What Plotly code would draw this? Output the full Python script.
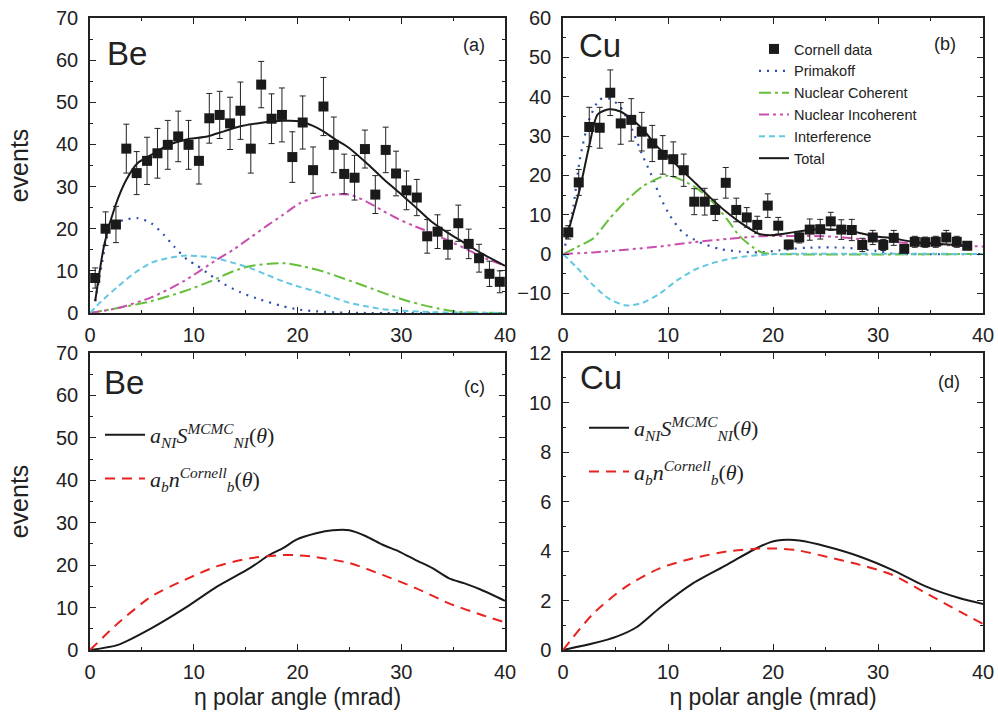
import plotly.graph_objects as go

# ---------------- Panel (a): Be, Cornell data and model components ----------------
be_data_x = [0.5, 1.5, 2.5, 3.5, 4.5, 5.5, 6.5, 7.5, 8.5, 9.5, 10.5, 11.5, 12.5, 13.5, 14.5,
             15.5, 16.5, 17.5, 18.5, 19.5, 20.5, 21.5, 22.5, 23.5, 24.5, 25.5, 26.5, 27.5,
             28.5, 29.5, 30.5, 31.5, 32.5, 33.5, 34.5, 35.5, 36.5, 37.5, 38.5, 39.5]
be_data_y = [8.3, 20.0, 21.0, 39.0, 33.2, 36.1, 37.9, 39.9, 41.9, 39.9, 36.1, 46.2, 47.0, 45.0,
             48.0, 39.0, 54.2, 46.1, 47.0, 37.0, 45.2, 33.9, 49.0, 39.9, 33.0, 32.1, 38.9, 28.1,
             38.7, 33.1, 29.1, 27.4, 18.2, 19.3, 16.2, 21.3, 16.4, 13.0, 9.3, 7.4]
be_data_err = [2.4, 4.0, 4.3, 5.8, 5.1, 5.6, 5.9, 5.8, 6.0, 5.8, 5.5, 5.9, 5.6, 6.2, 6.8, 5.8,
               5.5, 5.9, 6.4, 6.0, 6.3, 5.5, 6.9, 6.6, 4.7, 5.3, 4.5, 4.5, 5.4, 5.3, 4.6, 4.3,
               4.0, 4.0, 3.4, 4.3, 3.5, 3.3, 3.0, 2.6]

be_total_x = [0.5, 1.4, 2.45, 3.5, 4.6, 5.9, 7.5, 9.5, 11.3, 12.9, 14.5, 16.4, 18.6, 20.2, 21.5,
              22.5, 23.7, 25.0, 26.6, 28.2, 29.8, 31.3, 32.9, 34.5, 36.1, 37.7, 40.0]
be_total_y = [2.8, 16.5, 25.5, 31.6, 35.6, 37.5, 39.8, 41.3, 41.9, 43.1, 44.3, 45.1, 45.6, 45.5,
              44.4, 43.1, 41.1, 39.1, 35.7, 32.0, 28.6, 25.3, 21.7, 19.0, 16.6, 14.2, 11.2]

be_prim_x = [0.5, 1.1, 2.0, 3.3, 4.6, 5.9, 7.1, 8.1, 9.4, 10.3, 11.6, 12.9, 14.5, 16.4, 18.6,
             20.2, 21.8, 25.0, 40.0]
be_prim_y = [2.8, 11.0, 20.5, 22.1, 22.5, 21.3, 18.6, 15.8, 12.6, 11.3, 9.0, 6.9, 4.9, 3.2, 1.6,
             0.8, 0.4, 0.05, 0.0]

be_coh_x = [0.0, 2.7, 5.9, 9.0, 11.6, 13.8, 15.4, 17.3, 18.9, 20.5, 22.4, 24.3, 26.6, 28.8, 30.7,
            32.9, 35.2, 37.0, 40.0]
be_coh_y = [0.0, 1.2, 2.8, 5.1, 7.5, 9.9, 11.1, 11.7, 11.8, 11.1, 9.9, 8.3, 6.3, 4.3, 2.8, 1.4,
            0.4, 0.1, 0.0]

be_inc_x = [0.0, 2.7, 5.9, 9.0, 12.2, 13.8, 15.4, 17.0, 18.6, 20.2, 21.8, 23.4, 25.0, 26.6, 28.2,
            29.7, 31.3, 32.9, 34.5, 36.1, 37.7, 40.0]
be_inc_y = [0.0, 1.2, 3.7, 7.5, 12.6, 15.0, 17.8, 20.6, 23.3, 26.0, 27.5, 28.1, 28.1, 26.5, 24.3,
            22.3, 20.6, 19.0, 17.2, 15.4, 13.4, 11.2]

be_int_x = [0.0, 1.1, 2.7, 4.3, 5.9, 7.5, 9.0, 10.6, 12.2, 13.8, 15.4, 17.0, 18.6, 20.2, 21.8,
            23.4, 25.0, 26.6, 28.2, 29.7, 32.9, 40.0]
be_int_y = [0.0, 2.8, 6.3, 9.5, 11.9, 13.0, 13.6, 13.5, 13.0, 11.9, 10.7, 9.1, 7.5, 6.2, 5.1,
            3.7, 2.4, 1.6, 0.9, 0.6, 0.2, 0.0]

# ---------------- Panel (b): Cu, Cornell data and model components ----------------
cu_data_x = [0.5, 1.5, 2.5, 3.5, 4.5, 5.5, 6.5, 7.5, 8.5, 9.5, 10.5, 11.5, 12.5, 13.5, 14.5,
             15.5, 16.5, 17.5, 18.5, 19.5, 20.5, 21.5, 22.5, 23.5, 24.5, 25.5, 26.5, 27.5,
             28.5, 29.5, 30.5, 31.5, 32.5, 33.5, 34.5, 35.5, 36.5, 37.5, 38.5]
cu_data_y = [5.5, 18.2, 32.3, 32.1, 41.0, 33.2, 34.1, 31.1, 28.1, 25.2, 24.1, 21.3, 13.3, 13.3,
             11.2, 18.1, 11.2, 9.3, 7.4, 12.3, 7.2, 2.4, 4.2, 6.2, 6.3, 8.3, 6.2, 6.1, 2.3, 4.2,
             2.3, 4.1, 1.3, 3.1, 3.0, 3.1, 4.2, 3.1, 2.1]
cu_data_err = [1.7, 3.3, 5.0, 5.2, 5.8, 5.3, 5.4, 4.9, 4.6, 4.9, 4.4, 4.1, 3.3, 3.4, 2.7, 3.9,
               3.0, 2.5, 2.2, 3.0, 2.1, 1.1, 1.4, 2.7, 2.5, 2.3, 2.5, 2.7, 1.7, 1.8, 1.4, 1.9,
               0.8, 1.4, 1.3, 1.4, 1.8, 1.4, 1.0]

cu_total_x = [0.3, 1.6, 2.5, 3.3, 4.4, 5.4, 6.5, 7.6, 8.9, 10.2, 11.4, 12.7, 14.0, 15.6, 17.1,
              18.7, 20.0, 21.9, 23.8, 25.7, 27.6, 29.5, 31.4, 33.3, 35.2, 37.5, 38.5]
cu_total_y = [3.8, 16.5, 27.5, 35.5, 36.8, 36.3, 34.4, 31.7, 27.5, 24.3, 21.1, 17.8, 14.4, 10.6,
              7.6, 5.1, 4.8, 5.5, 6.2, 6.2, 5.7, 4.6, 4.0, 3.1, 2.7, 2.3, 2.1]

cu_prim_x = [0.2, 1.0, 1.6, 2.5, 3.5, 4.4, 5.4, 6.3, 7.6, 8.6, 9.2, 10.2, 11.4, 13.0, 14.9, 16.8,
             18.7, 20.5, 23.2, 26.7, 29.8, 31.5, 40.0]
cu_prim_y = [2.1, 12.3, 24.0, 34.2, 39.3, 39.5, 37.6, 33.4, 24.9, 19.0, 14.8, 9.7, 5.5, 3.0, 1.3,
             0.6, 0.4, 0.9, 1.6, 1.6, 0.8, 0.1, 0.0]

cu_coh_x = [0.0, 1.3, 2.9, 4.4, 6.0, 7.6, 9.2, 9.8, 10.8, 12.4, 14.0, 15.6, 16.8, 18.1, 19.0,
            20.0, 40.0]
cu_coh_y = [0.0, 1.7, 4.0, 8.9, 13.5, 17.2, 19.4, 19.9, 19.4, 17.3, 13.9, 8.9, 4.6, 1.7, 0.3,
            0.0, 0.0]

cu_inc_x = [0.0, 2.9, 6.0, 9.2, 12.4, 15.6, 18.7, 21.9, 25.1, 28.3, 31.4, 34.6, 37.8, 40.0]
cu_inc_y = [0.0, 0.4, 1.1, 1.9, 3.0, 3.8, 4.5, 4.6, 4.5, 3.8, 3.1, 2.5, 2.1, 1.9]

cu_int_x = [0.0, 1.3, 2.9, 4.4, 6.0, 7.6, 9.2, 10.8, 12.4, 14.0, 15.6, 17.1, 18.7, 20.3, 40.0]
cu_int_y = [0.0, -3.4, -8.0, -11.4, -13.1, -12.4, -10.1, -6.8, -4.2, -2.5, -1.4, -0.7, -0.3,
            0.0, 0.0]

# ---------------- Panels (c), (d): incoherent MCMC vs. Cornell background ----------------
be_sni_x = [0.0, 2.7, 5.9, 9.1, 12.2, 15.4, 17.3, 18.6, 19.9, 21.8, 23.4, 25.0, 26.6, 28.2,
            29.8, 31.4, 33.0, 34.6, 36.1, 37.7, 40.0]
be_sni_y = [0.0, 1.2, 5.1, 9.8, 14.9, 19.3, 22.4, 24.0, 26.0, 27.5, 28.2, 28.2, 26.8, 24.8,
            23.2, 21.2, 19.3, 16.9, 15.7, 14.2, 11.6]
be_nb_x = [0.0, 2.7, 5.9, 9.1, 12.2, 15.4, 18.6, 20.2, 21.8, 25.0, 28.2, 31.4, 34.6, 37.7, 40.0]
be_nb_y = [0.0, 6.3, 12.6, 16.5, 19.7, 21.6, 22.4, 22.3, 21.9, 20.5, 17.7, 14.6, 11.0, 8.3, 6.5]

cu_sni_x = [0.0, 2.9, 5.1, 7.0, 9.2, 12.4, 15.6, 18.1, 19.7, 21.3, 22.5, 25.1, 28.3, 31.4, 34.6,
            37.8, 40.0]
cu_sni_y = [0.0, 0.27, 0.54, 0.92, 1.70, 2.70, 3.44, 4.04, 4.35, 4.45, 4.42, 4.18, 3.77, 3.23,
            2.56, 2.09, 1.86]
cu_nb_x = [0.0, 2.9, 6.0, 9.2, 12.4, 15.6, 18.7, 20.3, 22.2, 25.1, 28.3, 31.4, 34.6, 37.8, 40.0]
cu_nb_y = [0.0, 1.48, 2.56, 3.30, 3.71, 3.98, 4.10, 4.10, 4.04, 3.77, 3.44, 3.03, 2.29, 1.55,
           1.05]

component_names = ["Cornell data", "Primakoff", "Nuclear Coherent", "Nuclear Incoherent",
                   "Interference", "Total"]
sni_label = "<i>a</i><sub><i>NI</i></sub><i>S</i><sup><i>MCMC</i></sup><sub><i>NI</i></sub>(<i>θ</i>)"
nb_label = "<i>a</i><sub><i>b</i></sub><i>n</i><sup><i>Cornell</i></sup><sub><i>b</i></sub>(<i>θ</i>)"

# line styles
INK = "#1a1a1a"
STYLES = {
    "Primakoff": dict(color="#2f4fae", width=2.2, dash="2px,6px"),
    "Nuclear Coherent": dict(color="#66bf3a", width=2, dash="12px,4px,3px,4px"),
    "Nuclear Incoherent": dict(color="#c84fae", width=2, dash="10px,4px,3px,4px,3px,4px"),
    "Interference": dict(color="#62c8e0", width=2, dash="6px,4px"),
    "Total": dict(color=INK, width=2),
}

fig = go.Figure()


def add_panel(xa, ya, legend, data_x, data_y, data_err, curves, show):
    for rank, (name, cx, cy) in enumerate(curves, start=2):
        fig.add_trace(go.Scatter(
            x=cx, y=cy, mode="lines", name=name, line=STYLES[name],
            line_shape="spline", line_smoothing=0.7,
            xaxis=xa, yaxis=ya, showlegend=show, legend=legend, legendrank=rank))
    fig.add_trace(go.Scatter(
        x=data_x, y=data_y, mode="markers", name=component_names[0],
        marker=dict(symbol="square", size=10, color=INK),
        error_y=dict(type="data", array=data_err, color="#222", thickness=1, width=3),
        xaxis=xa, yaxis=ya, showlegend=show, legend=legend, legendrank=1))


add_panel("x", "y", "legend", be_data_x, be_data_y, be_data_err,
          [("Primakoff", be_prim_x, be_prim_y),
           ("Nuclear Coherent", be_coh_x, be_coh_y),
           ("Nuclear Incoherent", be_inc_x, be_inc_y),
           ("Interference", be_int_x, be_int_y),
           ("Total", be_total_x, be_total_y)], False)

add_panel("x2", "y2", "legend", cu_data_x, cu_data_y, cu_data_err,
          [("Primakoff", cu_prim_x, cu_prim_y),
           ("Nuclear Coherent", cu_coh_x, cu_coh_y),
           ("Nuclear Incoherent", cu_inc_x, cu_inc_y),
           ("Interference", cu_int_x, cu_int_y),
           ("Total", cu_total_x, cu_total_y)], True)

for xa, ya, leg, sx, sy, nx, ny in [("x3", "y3", "legend2", be_sni_x, be_sni_y, be_nb_x, be_nb_y),
                                    ("x4", "y4", "legend3", cu_sni_x, cu_sni_y, cu_nb_x, cu_nb_y)]:
    fig.add_trace(go.Scatter(x=sx, y=sy, mode="lines", name=sni_label,
                             line=dict(color=INK, width=2), line_shape="spline",
                             line_smoothing=0.7, xaxis=xa, yaxis=ya, legend=leg,
                             legendgroup="s", legendrank=1))
    fig.add_trace(go.Scatter(x=nx, y=ny, mode="lines", name=nb_label,
                             line=dict(color="#e8231f", width=2, dash="10px,7px"),
                             line_shape="spline", line_smoothing=0.7,
                             xaxis=xa, yaxis=ya, legend=leg, legendgroup="n", legendrank=2))

W, H = 998, 722
LEFT = [90 / W, 505 / W]
RIGHT = [563 / W, 983 / W]
TOP = [1 - 313 / H, 1 - 18 / H]
BOTTOM = [1 - 650 / H, 1 - 353 / H]

TICKFONT = dict(family="Liberation Sans, Arial, sans-serif", size=20, color="#222")
TITLEFONT = dict(family="Liberation Sans, Arial, sans-serif", size=23, color="#222")


def xaxis(domain, anchor, title=None):
    d = dict(domain=domain, anchor=anchor, range=[0, 40], dtick=10, tick0=0,
             ticks="inside", ticklen=6, tickwidth=1, tickcolor="#222",
             showline=True, linecolor="#222", linewidth=1.5, mirror="ticks",
             showgrid=False, zeroline=False, automargin=False,
             minor=dict(ticks="inside", ticklen=3, dtick=5, tickcolor="#222", showgrid=False),
             tickfont=TICKFONT, ticklabelstandoff=3)
    if title:
        d["title"] = dict(text=title, font=TITLEFONT, standoff=7)
    return d


def yaxis(domain, anchor, rng, dtick, minor, title=None):
    d = dict(domain=domain, anchor=anchor, range=rng, dtick=dtick, tick0=0,
             ticks="inside", ticklen=6, tickwidth=1, tickcolor="#222",
             showline=True, linecolor="#222", linewidth=1.5, mirror="ticks",
             showgrid=False, zeroline=False, automargin=False,
             minor=dict(ticks="inside", ticklen=3, dtick=minor, tickcolor="#222", showgrid=False),
             tickfont=TICKFONT, ticklabelstandoff=6)
    if title:
        d["title"] = dict(text=title, font=dict(family=TITLEFONT["family"], size=25,
                                                color="#222"), standoff=20)
    return d


fig.update_layout(
    width=W, height=H, margin=dict(l=0, r=0, t=0, b=0),
    paper_bgcolor="white", plot_bgcolor="white",
    xaxis=xaxis(LEFT, "y"),
    yaxis=yaxis(TOP, "x", [0, 70], 10, 5, "events"),
    xaxis2=xaxis(RIGHT, "y2"),
    yaxis2=yaxis(TOP, "x2", [-15, 60], 10, 5),
    xaxis3=xaxis(LEFT, "y3", "η polar angle (mrad)"),
    yaxis3=yaxis(BOTTOM, "x3", [0, 70], 10, 5, "events"),
    xaxis4=xaxis(RIGHT, "y4", "η polar angle (mrad)"),
    yaxis4=yaxis(BOTTOM, "x4", [0, 12], 2, 1),
    legend=dict(x=754 / W, y=1 - 33 / H, xanchor="left", yanchor="top",
                bgcolor="rgba(0,0,0,0)", tracegroupgap=0,
                font=dict(family="Liberation Sans, Arial, sans-serif", size=14.5, color="#222")),
    legend2=dict(x=100 / W, y=1 - 414 / H, xanchor="left", yanchor="top",
                 bgcolor="rgba(0,0,0,0)", tracegroupgap=12, itemwidth=40,
                 font=dict(family="Liberation Serif, Times New Roman, serif", size=22,
                           color="#222")),
    legend3=dict(x=584 / W, y=1 - 407 / H, xanchor="left", yanchor="top",
                 bgcolor="rgba(0,0,0,0)", tracegroupgap=12, itemwidth=40,
                 font=dict(family="Liberation Serif, Times New Roman, serif", size=22,
                           color="#222")),
)

LABELFONT = dict(family="Liberation Sans, Arial, sans-serif", size=33, color="#222")
TAGFONT = dict(family="Liberation Sans, Arial, sans-serif", size=18, color="#222")
labels = [
    ("x", "y", "Be", 0.036, 0.878, "(a)", 0.957, 0.908),
    ("x2", "y2", "Cu", 0.033, 0.908, "(b)", 0.940, 0.912),
    ("x3", "y3", "Be", 0.029, 0.902, "(c)", 0.957, 0.886),
    ("x4", "y4", "Cu", 0.036, 0.916, "(d)", 0.950, 0.902),
]
for xa, ya, elem, ex, ey, tag, tx, ty in labels:
    fig.add_annotation(text=elem, xref=f"{xa} domain", yref=f"{ya} domain", x=ex, y=ey,
                       xanchor="left", yanchor="middle", showarrow=False, font=LABELFONT)
    fig.add_annotation(text=tag, xref=f"{xa} domain", yref=f"{ya} domain", x=tx, y=ty,
                       xanchor="right", yanchor="middle", showarrow=False, font=TAGFONT)

fig.write_html("out.html")
